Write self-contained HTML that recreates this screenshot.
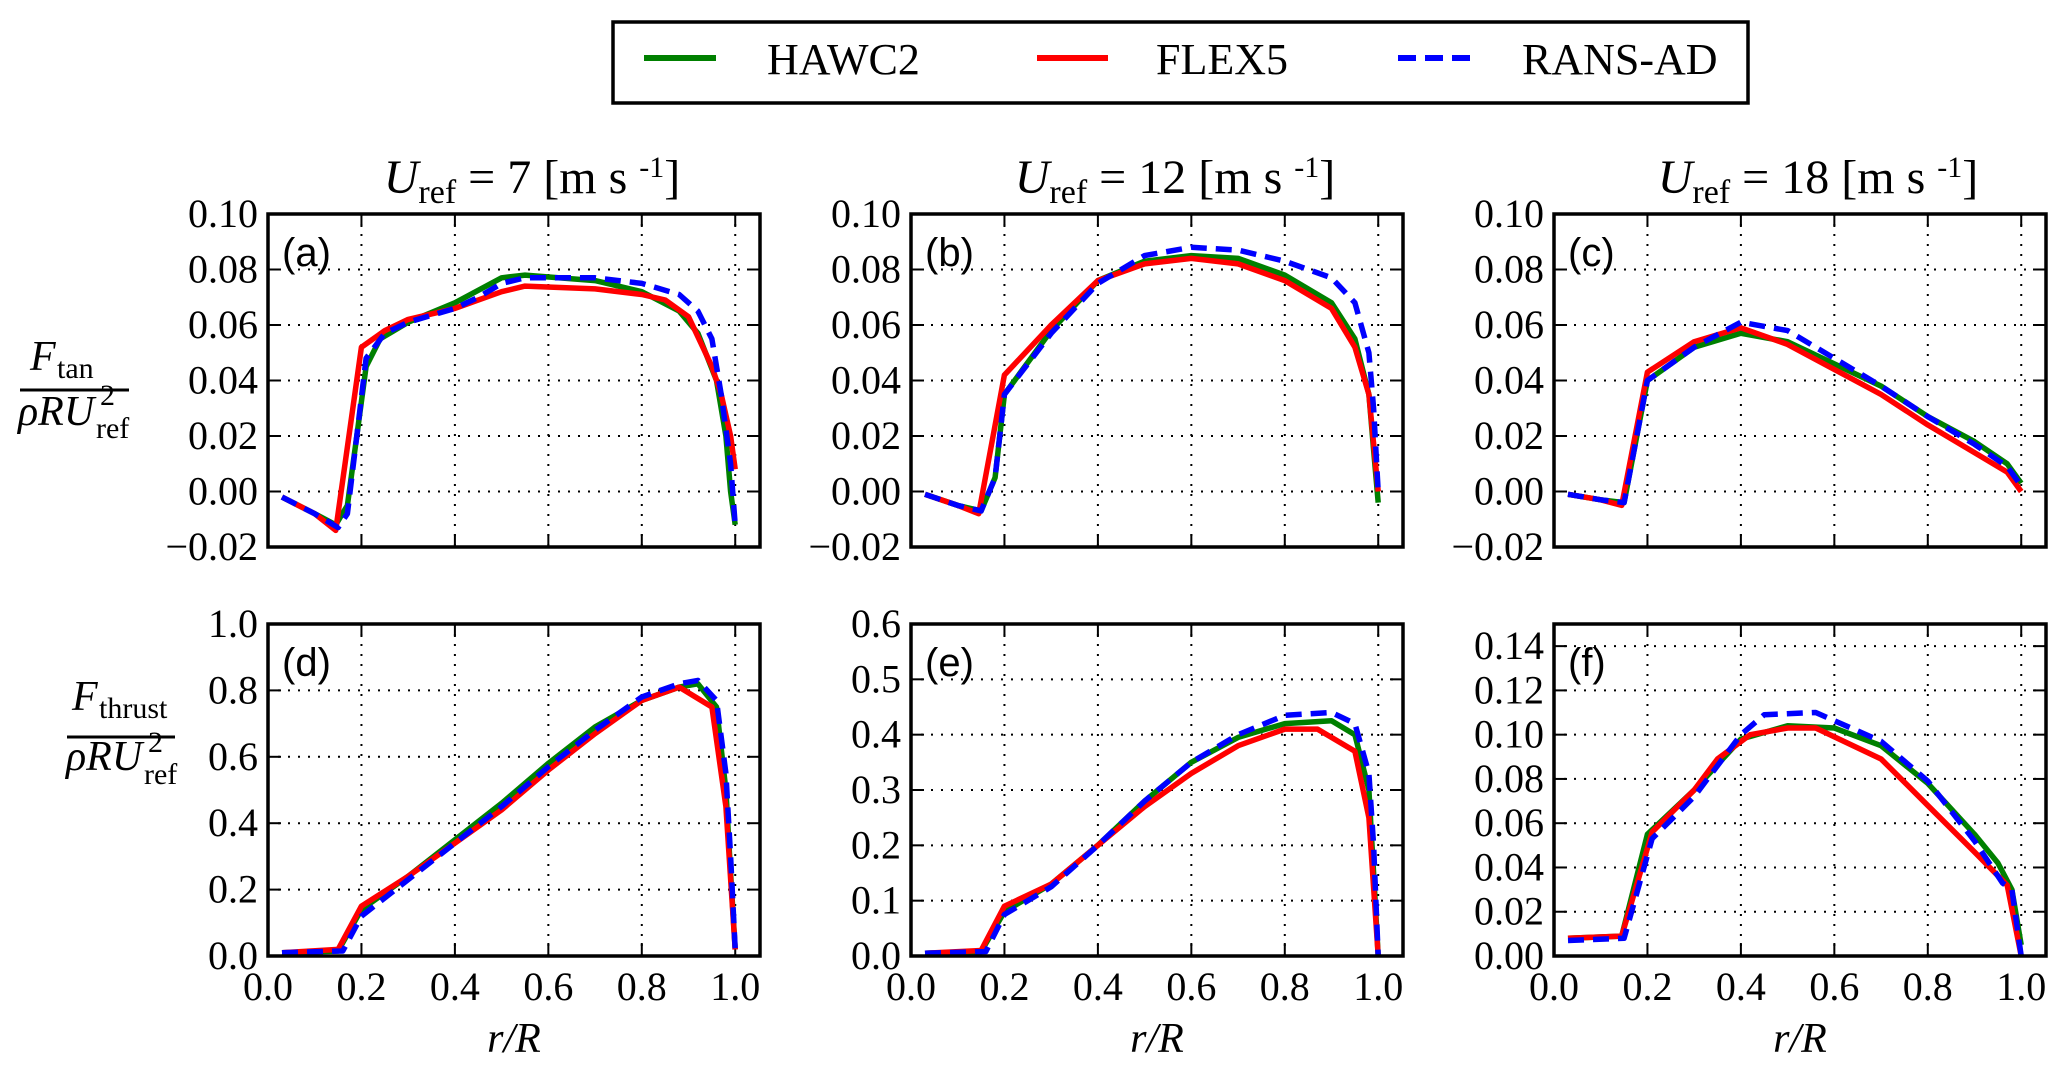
<!DOCTYPE html>
<html><head><meta charset="utf-8">
<style>
html,body{margin:0;padding:0;background:#fff;}
svg{display:block;}
</style></head>
<body>
<svg id="s" width="2067" height="1084" xmlns="http://www.w3.org/2000/svg" font-family="'Liberation Serif', serif">
<rect width="2067" height="1084" fill="#fff"/>
<!-- legend -->
<rect x="613" y="22" width="1135" height="81" fill="#fff" stroke="#000" stroke-width="3.5"/>
<line x1="644" y1="58" x2="716" y2="58" stroke="#008000" stroke-width="6"/>
<text x="767" y="74" font-size="44">HAWC2</text>
<line x1="1037" y1="58" x2="1108" y2="58" stroke="#ff0000" stroke-width="6"/>
<text x="1156" y="74" font-size="44">FLEX5</text>
<line x1="1398" y1="58" x2="1470" y2="58" stroke="#0000ff" stroke-width="6" stroke-dasharray="18,9"/>
<text x="1522" y="74" font-size="44">RANS-AD</text>

<!-- row labels -->
<g font-size="42">
<text x="30" y="370" font-style="italic">F</text><text x="57" y="378" font-size="30">tan</text>
<line x1="20" y1="390" x2="129" y2="390" stroke="#000" stroke-width="3"/>
<text x="18" y="425" font-style="italic">ρRU</text><text x="100" y="405" font-size="30">2</text><text x="96" y="438" font-size="30">ref</text>

<text x="72" y="710" font-style="italic">F</text><text x="99" y="718" font-size="30">thrust</text>
<line x1="67" y1="737" x2="175" y2="737" stroke="#000" stroke-width="3"/>
<text x="66" y="770" font-style="italic">ρRU</text><text x="148" y="752" font-size="30">2</text><text x="144" y="784" font-size="30">ref</text>
</g>
<g id="plots"></g>
</svg>
<script>
(function(){
var NS="http://www.w3.org/2000/svg";
var g=document.getElementById("plots");
function el(t,a,txt){var e=document.createElementNS(NS,t);for(var k in a)e.setAttribute(k,a[k]);if(txt!==undefined)e.textContent=txt;g.appendChild(e);return e;}
var XMAX=1.053;
var panels=[
{x0:268,y0:214,w:492,h:333,ymin:-0.02,ymax:0.10,ticks:[-0.02,0,0.02,0.04,0.06,0.08,0.10],dec:2,lab:"(a)",title:"7",
 H:[[0.03,-0.002],[0.10,-0.008],[0.145,-0.012],[0.17,-0.005],[0.19,0.02],[0.21,0.045],[0.24,0.055],[0.3,0.061],[0.4,0.068],[0.5,0.077],[0.55,0.078],[0.7,0.076],[0.8,0.072],[0.88,0.065],[0.92,0.057],[0.96,0.04],[0.98,0.02],[0.99,0.0],[1.0,-0.012]],
 F:[[0.03,-0.002],[0.10,-0.008],[0.145,-0.014],[0.2,0.052],[0.25,0.058],[0.3,0.062],[0.4,0.066],[0.5,0.072],[0.55,0.074],[0.7,0.073],[0.8,0.071],[0.85,0.069],[0.9,0.063],[0.95,0.045],[0.97,0.035],[0.99,0.02],[1.0,0.008]],
 R:[[0.03,-0.002],[0.10,-0.008],[0.15,-0.013],[0.17,-0.008],[0.19,0.02],[0.21,0.048],[0.25,0.057],[0.3,0.061],[0.4,0.066],[0.45,0.070],[0.5,0.075],[0.55,0.077],[0.7,0.077],[0.8,0.075],[0.88,0.071],[0.92,0.065],[0.95,0.055],[0.97,0.035],[0.99,0.01],[1.0,-0.012]]},
{x0:911,y0:214,w:492,h:333,ymin:-0.02,ymax:0.10,ticks:[-0.02,0,0.02,0.04,0.06,0.08,0.10],dec:2,lab:"(b)",title:"12",
 H:[[0.03,-0.001],[0.1,-0.005],[0.15,-0.007],[0.18,0.005],[0.2,0.035],[0.3,0.058],[0.4,0.076],[0.5,0.083],[0.6,0.085],[0.7,0.084],[0.8,0.078],[0.9,0.068],[0.95,0.055],[0.98,0.035],[0.99,0.015],[1.0,-0.004]],
 F:[[0.03,-0.001],[0.1,-0.005],[0.145,-0.008],[0.2,0.042],[0.3,0.06],[0.4,0.076],[0.5,0.082],[0.6,0.084],[0.7,0.082],[0.8,0.076],[0.9,0.066],[0.95,0.052],[0.98,0.035],[1.0,0.0]],
 R:[[0.03,-0.001],[0.1,-0.005],[0.15,-0.007],[0.18,0.005],[0.2,0.035],[0.3,0.057],[0.4,0.075],[0.5,0.085],[0.6,0.088],[0.7,0.087],[0.8,0.083],[0.9,0.077],[0.95,0.068],[0.98,0.05],[0.99,0.03],[1.0,0.0]]},
{x0:1554,y0:214,w:492,h:333,ymin:-0.02,ymax:0.10,ticks:[-0.02,0,0.02,0.04,0.06,0.08,0.10],dec:2,lab:"(c)",title:"18",
 H:[[0.03,-0.001],[0.1,-0.003],[0.15,-0.004],[0.2,0.04],[0.3,0.052],[0.4,0.057],[0.5,0.054],[0.6,0.046],[0.7,0.038],[0.8,0.027],[0.9,0.018],[0.97,0.01],[1.0,0.003]],
 F:[[0.03,-0.001],[0.1,-0.003],[0.145,-0.005],[0.2,0.043],[0.3,0.054],[0.4,0.059],[0.5,0.053],[0.6,0.044],[0.7,0.035],[0.8,0.024],[0.9,0.014],[0.97,0.007],[1.0,0.0]],
 R:[[0.03,-0.001],[0.1,-0.003],[0.15,-0.004],[0.2,0.04],[0.3,0.052],[0.4,0.061],[0.5,0.058],[0.6,0.048],[0.7,0.038],[0.8,0.027],[0.9,0.017],[0.97,0.009],[1.0,0.002]]},
{x0:268,y0:624,w:492,h:332,ymin:0,ymax:1.0,ticks:[0,0.2,0.4,0.6,0.8,1.0],dec:1,lab:"(d)",xl:1,
 H:[[0.03,0.01],[0.15,0.015],[0.2,0.14],[0.3,0.24],[0.4,0.35],[0.5,0.46],[0.6,0.58],[0.7,0.69],[0.8,0.77],[0.88,0.81],[0.92,0.82],[0.96,0.75],[0.98,0.5],[0.99,0.25],[1.0,0.02]],
 F:[[0.03,0.01],[0.15,0.02],[0.2,0.15],[0.3,0.24],[0.4,0.34],[0.5,0.44],[0.6,0.56],[0.7,0.67],[0.8,0.77],[0.88,0.81],[0.95,0.75],[0.98,0.45],[1.0,0.02]],
 R:[[0.03,0.01],[0.16,0.015],[0.2,0.12],[0.3,0.23],[0.4,0.34],[0.5,0.45],[0.6,0.57],[0.7,0.68],[0.8,0.78],[0.88,0.82],[0.92,0.83],[0.96,0.77],[0.98,0.55],[0.99,0.3],[1.0,0.02]]},
{x0:911,y0:624,w:492,h:332,ymin:0,ymax:0.6,ticks:[0,0.1,0.2,0.3,0.4,0.5,0.6],dec:1,lab:"(e)",xl:1,
 H:[[0.03,0.005],[0.15,0.008],[0.2,0.08],[0.3,0.13],[0.4,0.2],[0.5,0.28],[0.6,0.35],[0.7,0.395],[0.8,0.42],[0.9,0.425],[0.95,0.40],[0.98,0.3],[0.99,0.15],[1.0,0.0]],
 F:[[0.03,0.005],[0.15,0.01],[0.2,0.09],[0.3,0.13],[0.4,0.2],[0.5,0.27],[0.6,0.33],[0.7,0.38],[0.8,0.41],[0.87,0.41],[0.95,0.37],[0.98,0.25],[1.0,0.0]],
 R:[[0.03,0.005],[0.16,0.008],[0.2,0.075],[0.3,0.125],[0.4,0.2],[0.5,0.28],[0.6,0.35],[0.7,0.40],[0.8,0.435],[0.9,0.44],[0.95,0.42],[0.98,0.33],[0.99,0.2],[1.0,0.0]]},
{x0:1554,y0:624,w:492,h:332,ymin:0,ymax:0.15,ticks:[0,0.02,0.04,0.06,0.08,0.10,0.12,0.14],dec:2,lab:"(f)",xl:1,
 H:[[0.03,0.008],[0.145,0.009],[0.2,0.055],[0.3,0.075],[0.4,0.098],[0.5,0.104],[0.6,0.103],[0.7,0.095],[0.8,0.078],[0.9,0.055],[0.95,0.042],[0.98,0.03],[1.0,0.005]],
 F:[[0.03,0.008],[0.145,0.009],[0.21,0.056],[0.3,0.075],[0.35,0.089],[0.42,0.1],[0.5,0.103],[0.56,0.103],[0.7,0.089],[0.8,0.068],[0.9,0.047],[0.97,0.032],[1.0,0.0]],
 R:[[0.03,0.007],[0.15,0.008],[0.21,0.053],[0.3,0.072],[0.4,0.1],[0.45,0.109],[0.56,0.11],[0.7,0.097],[0.8,0.079],[0.9,0.052],[0.96,0.033],[0.98,0.03],[1.0,0.0]]}
];
panels.forEach(function(p){
  function X(v){return p.x0+v/XMAX*p.w;}
  function Y(v){return p.y0+p.h-(v-p.ymin)/(p.ymax-p.ymin)*p.h;}
  var xt=[0,0.2,0.4,0.6,0.8,1.0];
  xt.forEach(function(v){var x=X(v);
    if(v>0) el("line",{x1:x,y1:p.y0,x2:x,y2:p.y0+p.h,stroke:"#000","stroke-width":2,"stroke-dasharray":"2,8"});
    el("line",{x1:x,y1:p.y0+p.h,x2:x,y2:p.y0+p.h-13,stroke:"#000","stroke-width":2});
    el("line",{x1:x,y1:p.y0,x2:x,y2:p.y0+13,stroke:"#000","stroke-width":2});
    if(p.xl) el("text",{x:x,y:p.y0+p.h+44,"font-size":40,"text-anchor":"middle"},v.toFixed(1));
  });
  p.ticks.forEach(function(v){var y=Y(v);
    if(v>p.ymin+1e-9 && v<p.ymax-1e-9) el("line",{x1:p.x0,y1:y,x2:p.x0+p.w,y2:y,stroke:"#000","stroke-width":2,"stroke-dasharray":"2,8"});
    el("line",{x1:p.x0,y1:y,x2:p.x0+13,y2:y,stroke:"#000","stroke-width":2});
    el("line",{x1:p.x0+p.w,y1:y,x2:p.x0+p.w-13,y2:y,stroke:"#000","stroke-width":2});
    var s=Math.abs(v).toFixed(p.dec); if(v<-1e-9) s="\u2212"+s;
    el("text",{x:p.x0-10,y:y+13,"font-size":40,"text-anchor":"end"},s);
  });
  function line(d,c,dash){var pts=d.map(function(q){return X(q[0]).toFixed(1)+","+Y(q[1]).toFixed(1);}).join(" ");
    var a={points:pts,fill:"none",stroke:c,"stroke-width":5.5,"stroke-linejoin":"round"};
    if(dash)a["stroke-dasharray"]="16,9";
    el("polyline",a);}
  line(p.H,"#008000");line(p.F,"#ff0000");line(p.R,"#0000ff",1);
  el("rect",{x:p.x0,y:p.y0,width:p.w,height:p.h,fill:"none",stroke:"#000","stroke-width":3.5});
  el("text",{x:p.x0+14,y:p.y0+52,"font-size":40,"font-family":"'Liberation Sans', sans-serif"},p.lab);
  if(p.title){
    var t=el("text",{x:p.x0+p.w/2+18,y:193,"font-size":48,"text-anchor":"middle"});
    t.innerHTML='<tspan font-style="italic">U</tspan><tspan font-size="34" dy="10">ref</tspan><tspan dy="-10"> = '+p.title+' [m  s </tspan><tspan font-size="30" dy="-16">-1</tspan><tspan dy="16">]</tspan>';
  }
  if(p.xl){
    var t2=el("text",{x:p.x0+p.w/2,y:1052,"font-size":42,"text-anchor":"middle","font-style":"italic"});
    t2.textContent="r/R";
  }
});
})();
</script>
</body></html>
